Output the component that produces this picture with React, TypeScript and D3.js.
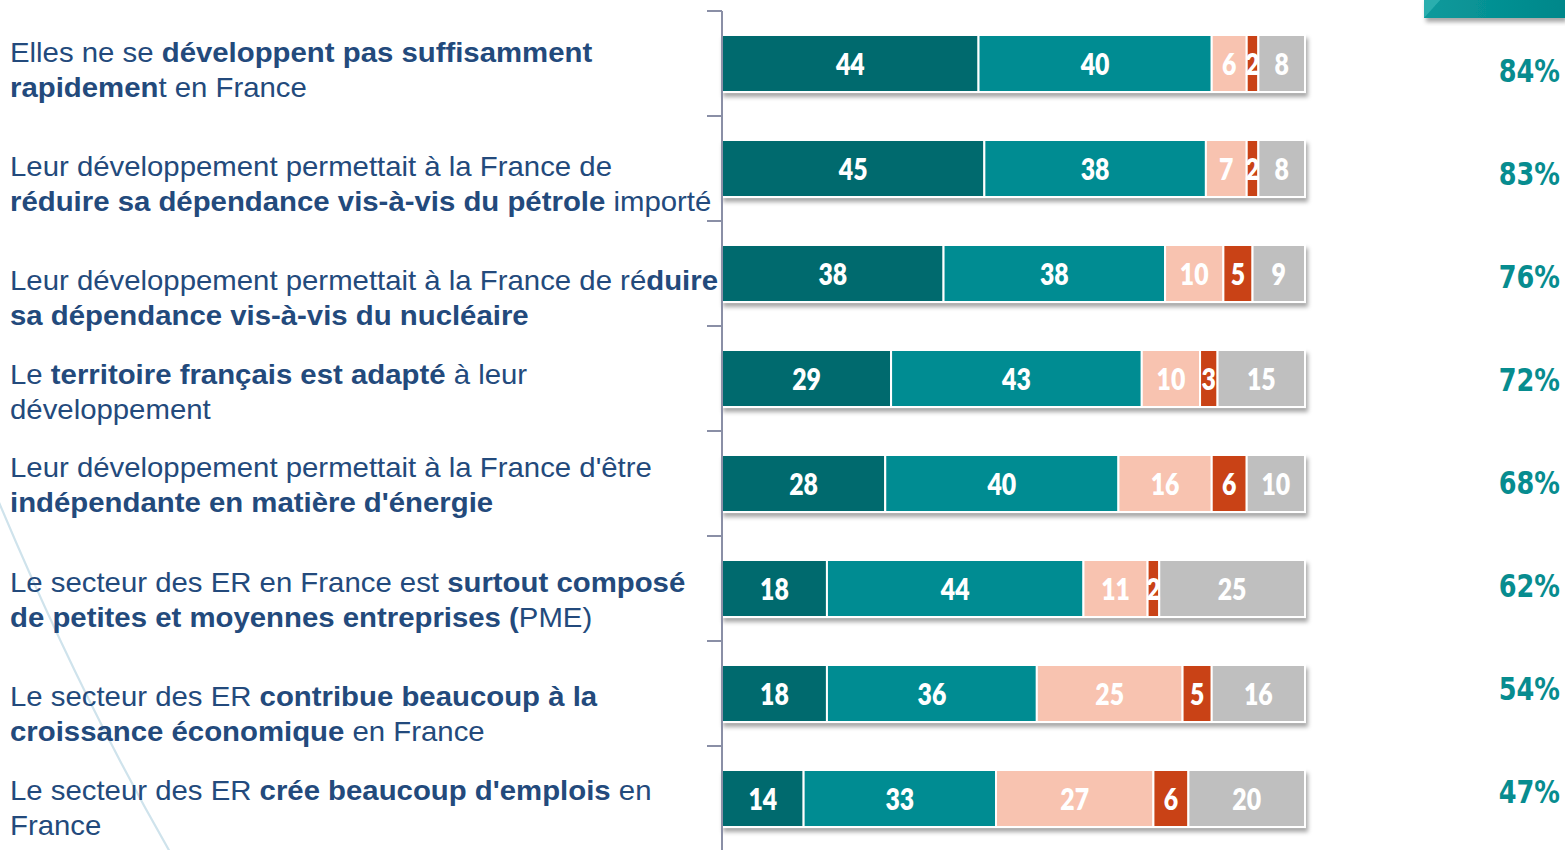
import React from "react";
import * as d3 from "d3";

const categories = [
  "Elles ne se **développent pas suffisamment**|**rapidemen**t en France",
  "Leur développement permettait à la France de|**réduire sa dépendance vis-à-vis du pétrole** importé",
  "Leur développement permettait à la France de ré**duire**|**sa dépendance vis-à-vis du nucléaire**",
  "Le **territoire français est adapté** à leur|développement",
  "Leur développement permettait à la France d'être|**indépendante en matière d'énergie**",
  "Le secteur des ER en France est **surtout composé**|**de petites et moyennes entreprises (**PME)",
  "Le secteur des ER **contribue beaucoup à la**|**croissance économique** en France",
  "Le secteur des ER **crée beaucoup d'emplois** en|France",
];

const seriesKeys = ["s1", "s2", "s3", "s4", "s5"];
const s1 = [44, 45, 38, 29, 28, 18, 18, 14];
const s2 = [40, 38, 38, 43, 40, 44, 36, 33];
const s3 = [6, 7, 10, 10, 16, 11, 25, 27];
const s4 = [2, 2, 5, 3, 6, 2, 5, 6];
const s5 = [8, 8, 9, 15, 10, 25, 16, 20];
const seriesColors = ["#036B6E", "#028C92", "#F8C3B0", "#C94312", "#BFBFBF"];

// layout constants (not data)
const W = 1565;
const H = 850;
const labelDy = [-1.5, 7.5, 16.5, 5.5, -6.5, 3.5, 12.5, 1.5];

function parseLine(line: string) {
  const parts = line.split("**");
  return parts.map((t, i) => ({ text: t, bold: i % 2 === 1 })).filter((p) => p.text.length > 0);
}

export default function App() {
  const rows = categories.map((c, i) => ({
    cat: c,
    s1: s1[i],
    s2: s2[i],
    s3: s3[i],
    s4: s4[i],
    s5: s5[i],
  }));
  const stack = d3.stack<any>().keys(seriesKeys)(rows);

  const x = d3.scaleLinear().domain([0, 100]).range([722, 1305]);
  const y = d3
    .scaleBand<string>()
    .domain(categories)
    .range([11, 851])
    .paddingInner(0.457)
    .paddingOuter(0.2285);
  const yPct = d3.scalePoint<string>().domain(categories).range([70, 791]);

  const textColor = "#234A7C";

  return (
    <svg
      width={W}
      height={H}
      style={{ position: "absolute", left: 0, top: 0, background: "#fff" }}
    >
      <defs>
        <filter id="sh" x="-5%" y="-20%" width="110%" height="160%">
          <feDropShadow dx="2" dy="4" stdDeviation="2.2" floodColor="#000" floodOpacity="0.35" />
        </filter>
        <linearGradient id="tg" x1="0" x2="1" y1="0" y2="0">
          <stop offset="0" stopColor="#0b9a9c" />
          <stop offset="1" stopColor="#00878a" />
        </linearGradient>
      </defs>

      {/* decorative curve */}
      <path
        d="M -2,500 C 40,600 100,730 170,852"
        fill="none"
        stroke="#cfe3ec"
        strokeWidth={2.2}
      />

      {/* top-right decoration */}
      <g filter="url(#sh)">
        <rect x={1424} y={-2} width={141} height={20} fill="url(#tg)" />
        <polygon points="1424,-2 1442,-2 1424,18" fill="#2aaeae" />
      </g>

      {/* left labels */}
      {categories.map((c, i) => {
        const cy = (y(c) as number) + y.bandwidth() / 2 + labelDy[i];
        const lines = c.split("|");
        return (
          <g key={"l" + i}>
            {lines.map((ln, j) => (
              <text
                key={j}
                transform={`translate(10,${cy + j * 35}) scale(1.03,1)`}
                fontFamily="'Liberation Sans', Arial, sans-serif"
                fontSize={28.5}
                fill={textColor}
              >
                {parseLine(ln).map((p, k) => (
                  <tspan key={k} fontWeight={p.bold ? 700 : 400}>
                    {p.text}
                  </tspan>
                ))}
              </text>
            ))}
          </g>
        );
      })}

      {/* bars */}
      {categories.map((c, i) => (
        <g key={"b" + i} filter="url(#sh)">
          {stack.map((layer, si) => {
            const d = layer[i];
            return (
              <rect
                key={si}
                x={x(d[0])}
                y={y(c)}
                width={x(d[1]) - x(d[0])}
                height={y.bandwidth()}
                fill={seriesColors[si]}
                stroke="#fff"
                strokeWidth={2}
              />
            );
          })}
        </g>
      ))}

      {/* bar value labels */}
      {categories.map((c, i) =>
        stack.map((layer, si) => {
          const d = layer[i];
          const cx = (x(d[0]) + x(d[1])) / 2;
          const cy = (y(c) as number) + y.bandwidth() / 2;
          return (
            <text
              key={"v" + i + "-" + si}
              transform={`translate(${cx},${cy + 11}) scale(0.8,1)`}
              textAnchor="middle"
              fontFamily="Lato, 'Open Sans', sans-serif"
              fontWeight={800}
              fontSize={31}
              fill="#fff"
            >
              {d[1] - d[0]}
            </text>
          );
        })
      )}

      {/* axis */}
      <g stroke="#8A8FA6" strokeWidth={2}>
        <line x1={722} x2={722} y1={11} y2={H} />
        {d3.range(categories.length + 1).map((k) => {
          const yy = 11 + k * y.step();
          return <line key={k} x1={707} x2={722} y1={yy} y2={yy} />;
        })}
      </g>

      {/* totals */}
      {categories.map((c, i) => (
        <text
          key={"p" + i}
          transform={`translate(1560,${(yPct(c) as number) + 12}) scale(0.8,1)`}
          textAnchor="end"
          fontFamily="'DejaVu Sans', Verdana, sans-serif"
          fontWeight={700}
          fontSize={32}
          fill="#078C8F"
        >
          {s1[i] + s2[i]}%
        </text>
      ))}
    </svg>
  );
}
